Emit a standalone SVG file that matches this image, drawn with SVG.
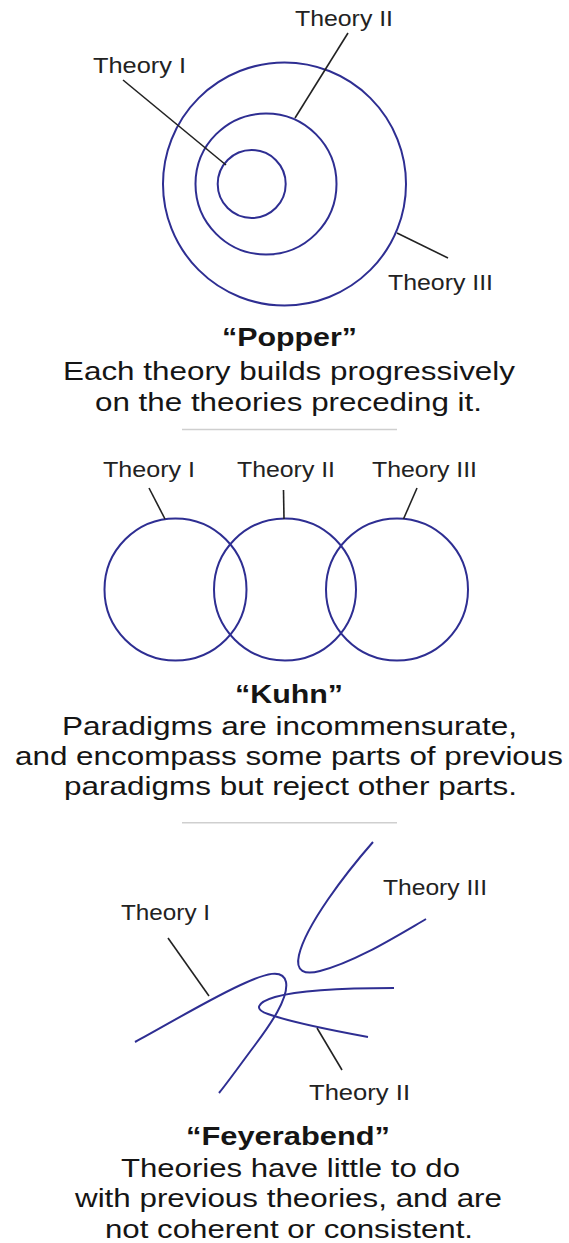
<svg xmlns="http://www.w3.org/2000/svg" width="569" height="1243" viewBox="0 0 569 1243">
<style>
  .shape { fill: none; stroke: #2e2e92; stroke-width: 2; }
  .lead { stroke: #222; stroke-width: 1.6; fill: none; }
  .sep { stroke: #cfcfcf; stroke-width: 1.5; }
  .lbl { font-family: "Liberation Sans", Arial, sans-serif; font-size: 22px; fill: #222; }
  .cap { font-family: "Liberation Sans", Arial, sans-serif; font-size: 25px; fill: #151515; }
  .ttl { font-family: "Liberation Sans", Arial, sans-serif; font-size: 25px; font-weight: bold; fill: #151515; }
</style>
<rect width="569" height="1243" fill="#ffffff"/>

<!-- Popper -->
<g id="popper-theory3">
  <circle class="shape" cx="284.5" cy="184" r="121.5"/>
  <text class="lbl" x="388" y="290" textLength="105" lengthAdjust="spacingAndGlyphs">Theory III</text>
</g>
<g id="popper-theory2">
  <circle class="shape" cx="266" cy="184" r="70.5"/>
  <text class="lbl" x="295" y="26" textLength="98" lengthAdjust="spacingAndGlyphs">Theory II</text>
</g>
<g id="popper-theory1">
  <circle class="shape" cx="251.7" cy="184" r="34"/>
  <text class="lbl" x="93" y="72.5" textLength="93" lengthAdjust="spacingAndGlyphs">Theory I</text>
</g>
<g id="popper-caption">
  <text class="ttl" x="222" y="346" textLength="135" lengthAdjust="spacingAndGlyphs">“Popper”</text>
  <text class="cap" x="63" y="379.5" textLength="452" lengthAdjust="spacingAndGlyphs">Each theory builds progressively</text>
  <text class="cap" x="95" y="410.5" textLength="387" lengthAdjust="spacingAndGlyphs">on the theories preceding it.</text>
</g>
<line class="sep" x1="182" y1="429.5" x2="397" y2="429.5"/>

<!-- Kuhn -->
<g id="kuhn-theory1">
  <circle class="shape" cx="175.5" cy="589.5" r="71"/>
  <text class="lbl" x="103" y="476.5" textLength="92" lengthAdjust="spacingAndGlyphs">Theory I</text>
</g>
<g id="kuhn-theory2">
  <circle class="shape" cx="285" cy="589.5" r="71"/>
  <text class="lbl" x="237" y="476.5" textLength="98" lengthAdjust="spacingAndGlyphs">Theory II</text>
</g>
<g id="kuhn-theory3">
  <circle class="shape" cx="397" cy="589.5" r="71"/>
  <text class="lbl" x="372" y="476.5" textLength="105" lengthAdjust="spacingAndGlyphs">Theory III</text>
</g>
<g id="kuhn-caption">
  <text class="ttl" x="235" y="703" textLength="108" lengthAdjust="spacingAndGlyphs">“Kuhn”</text>
  <text class="cap" x="62" y="735" textLength="455" lengthAdjust="spacingAndGlyphs">Paradigms are incommensurate,</text>
  <text class="cap" x="15" y="765" textLength="548" lengthAdjust="spacingAndGlyphs">and encompass some parts of previous</text>
  <text class="cap" x="64" y="795" textLength="453" lengthAdjust="spacingAndGlyphs">paradigms but reject other parts.</text>
</g>
<line class="sep" x1="182" y1="822.7" x2="397" y2="822.7"/>

<!-- Feyerabend -->
<g id="feyerabend-theory3">
  <path class="shape" d="M373,842 C345,874 306,925 299,955 C295,972 305,975 320,971 C355,962 395,937 426,919"/>
  <text class="lbl" x="383" y="895" textLength="104" lengthAdjust="spacingAndGlyphs">Theory III</text>
</g>
<g id="feyerabend-theory1">
  <path class="shape" d="M135,1042 C170,1023 215,996 245,983 C265,974 283,968 286,982 C289,998 270,1025 255,1045 C240,1065 228,1082 219,1093"/>
  <text class="lbl" x="121" y="920" textLength="89" lengthAdjust="spacingAndGlyphs">Theory I</text>
</g>
<g id="feyerabend-theory2">
  <path class="shape" d="M394,988 C350,988 300,990 275,997 C255,1003 255,1010 268,1014 C290,1022 330,1030 368,1037"/>
  <text class="lbl" x="309" y="1100" textLength="101" lengthAdjust="spacingAndGlyphs">Theory II</text>
</g>
<g id="feyerabend-caption">
  <text class="ttl" x="186" y="1145" textLength="204" lengthAdjust="spacingAndGlyphs">“Feyerabend”</text>
  <text class="cap" x="121" y="1177" textLength="339" lengthAdjust="spacingAndGlyphs">Theories have little to do</text>
  <text class="cap" x="75" y="1207" textLength="427" lengthAdjust="spacingAndGlyphs">with previous theories, and are</text>
  <text class="cap" x="105" y="1238" textLength="368" lengthAdjust="spacingAndGlyphs">not coherent or consistent.</text>
</g>

<!-- connectors (label leaders) -->
<g id="connectors">
  <line class="lead" x1="123" y1="80" x2="226" y2="165"/>
  <line class="lead" x1="348" y1="33" x2="295" y2="118"/>
  <line class="lead" x1="397" y1="233" x2="448" y2="258"/>
  <line class="lead" x1="149" y1="488" x2="165" y2="519"/>
  <line class="lead" x1="283.5" y1="490" x2="284" y2="519"/>
  <line class="lead" x1="417" y1="488" x2="403.5" y2="519"/>
  <line class="lead" x1="168" y1="938" x2="209" y2="996"/>
  <line class="lead" x1="317" y1="1028" x2="342" y2="1070"/>
</g>
</svg>
